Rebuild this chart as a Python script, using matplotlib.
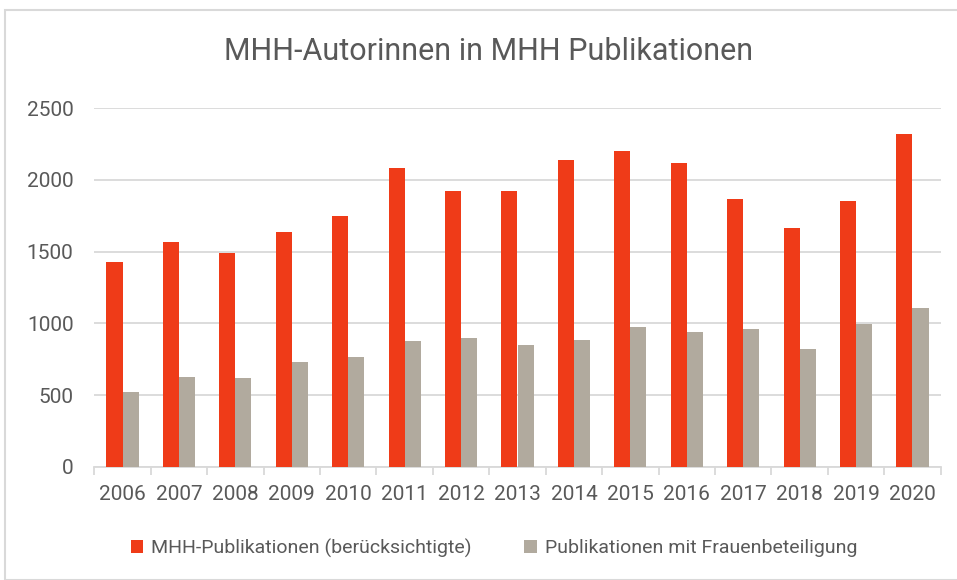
import matplotlib
matplotlib.use("Agg")
import matplotlib.pyplot as plt
import numpy as np
from matplotlib.patches import Rectangle
from matplotlib import font_manager

years = ["2006", "2007", "2008", "2009", "2010", "2011", "2012", "2013",
         "2014", "2015", "2016", "2017", "2018", "2019", "2020"]
mhh_pub = [1426, 1570, 1491, 1639, 1751, 2084, 1923, 1920, 2137, 2204, 2116, 1867, 1663, 1856, 2323]
frauen_pub = [523, 623, 617, 732, 767, 879, 896, 847, 884, 977, 942, 960, 823, 998, 1105]
series_names = ["MHH-Publikationen (berücksichtigte)", "Publikationen mit Frauenbeteiligung"]
yticks = [0, 500, 1000, 1500, 2000, 2500]

available = {f.name for f in font_manager.fontManager.ttflist}
fam = [f for f in ["Roboto", "DejaVu Sans"] if f in available]
plt.rcParams['font.family'] = fam

red = "#EF3B18"
grey = "#B1AA9E"
txt = "#595959"

fig = plt.figure(figsize=(9.57, 5.8), dpi=100)
ax = fig.add_axes([94.3/957, 1-466.7/580, (940.7-94.3)/957, (466.7-108.3)/580])

x = np.arange(len(years))
w = 0.284
ax.bar(x - w/2, mhh_pub, w, color=red, label=series_names[0], zorder=3)
ax.bar(x + w/2, frauen_pub, w, color=grey, label=series_names[1], zorder=3)

ax.set_xlim(-0.5, len(years) - 0.5)
ax.set_ylim(0, 2500)
ax.set_yticks(yticks)
ax.set_yticklabels([str(v) for v in yticks], color=txt, fontsize=15)
ax.yaxis.grid(True, color="#D9D9D9", linewidth=1.3, zorder=0)
ax.tick_params(axis='y', length=0, pad=15)
ax.set_xticks(x)
ax.set_xticklabels(years, color=txt, fontsize=15)
ax.tick_params(axis='x', length=0, pad=13)
ax.set_xticks(np.arange(len(years) + 1) - 0.5, minor=True)
ax.tick_params(axis='x', which='minor', length=6, color="#D9D9D9", width=1.3)
for s in ["top", "right", "left"]:
    ax.spines[s].set_visible(False)
ax.spines["bottom"].set_color("#D9D9D9")
ax.spines["bottom"].set_linewidth(1.3)

fig.text(489/957, 1-52/580, "MHH-Autorinnen in MHH Publikationen", ha="center", va="center",
         fontsize=22, color=txt)

leg = fig.legend(loc="center", bbox_to_anchor=(494/957, 1-548/580), ncol=2, frameon=False,
                 fontsize=14, handlelength=0.65, handleheight=0.65, handletextpad=0.4,
                 columnspacing=2.7, labelcolor=txt)

fig.patches.append(Rectangle((5/957, 0.0), 1, 1-10/580, transform=fig.transFigure,
                             fill=False, edgecolor="#D9D9D9", linewidth=1.5))

fig.savefig("out.png", dpi=100)
